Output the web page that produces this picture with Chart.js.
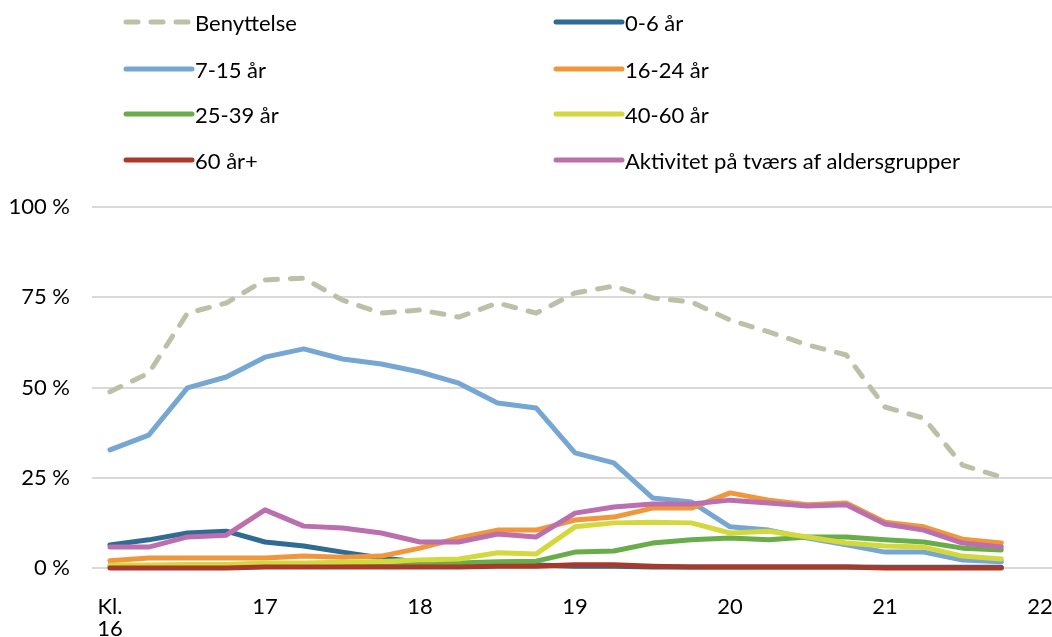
<!DOCTYPE html>
<html>
<head>
<meta charset="utf-8">
<script src="https://cdn.jsdelivr.net/npm/chart.js@4.4.1/dist/chart.umd.min.js"></script>
<style>
  body { margin: 0; background: #fff; font-family: Lato, sans-serif; }
  #wrap { position: relative; width: 1052px; height: 637px; }
  #legend { position: absolute; left: 0; top: 0; width: 1052px; height: 190px; }
  .item { position: absolute; display: flex; align-items: center; font-size: 22px; color: #000; white-space: nowrap; }
</style>
</head>
<body>
<div id="wrap">
  <canvas id="myChart" width="1052" height="637"></canvas>
  <div id="legend"></div>
</div>
<script>
// time of day, quarter hours
const hours = [16, 16.25, 16.5, 16.75, 17, 17.25, 17.5, 17.75, 18, 18.25, 18.5, 18.75,
               19, 19.25, 19.5, 19.75, 20, 20.25, 20.5, 20.75, 21, 21.25, 21.5, 21.75];
const hourTicks = [16, 17, 18, 19, 20, 21, 22];

const seriesNames = ['Benyttelse', '0-6 år', '7-15 år', '16-24 år', '25-39 år', '40-60 år', '60 år+', 'Aktivitet på tværs af aldersgrupper'];

const benyttelse = [48.8, 54.0, 70.6, 73.4, 79.8, 80.3, 74.2, 70.6, 71.5, 69.5, 73.4, 70.6, 76.2, 78.1, 74.8, 73.7, 68.7, 65.4, 61.8, 59.0, 44.6, 41.5, 28.5, 25.2];
const age0_6 = [6.4, 7.8, 9.7, 10.2, 7.2, 6.1, 4.4, 2.8, 1.7, 1.2, 1.0, 0.8, 0.5, 0.5, 0.3, 0.3, 0.3, 0.3, 0.3, 0.3, 0.2, 0.2, 0.2, 0.2];
const age7_15 = [32.7, 36.8, 49.9, 52.9, 58.4, 60.7, 57.9, 56.5, 54.3, 51.2, 45.7, 44.3, 31.9, 29.1, 19.4, 18.3, 11.4, 10.5, 8.3, 6.4, 4.4, 4.4, 2.2, 1.7];
const age16_24 = [2.0, 2.8, 2.8, 2.8, 2.8, 3.3, 3.0, 3.3, 5.5, 8.3, 10.5, 10.5, 13.3, 14.1, 16.6, 16.6, 20.8, 18.8, 17.5, 18.0, 12.7, 11.4, 8.0, 6.9];
const age25_39 = [0.5, 0.5, 0.5, 0.5, 0.5, 0.5, 0.5, 0.5, 0.8, 1.4, 1.7, 1.9, 4.4, 4.7, 6.9, 7.8, 8.3, 7.8, 8.6, 8.6, 7.8, 7.2, 5.5, 5.0];
const age40_60 = [0.8, 0.8, 1.0, 1.0, 1.4, 1.4, 1.6, 1.8, 2.2, 2.5, 4.2, 3.9, 11.4, 12.5, 12.7, 12.5, 9.7, 10.2, 8.6, 6.9, 6.1, 5.8, 3.3, 2.5];
const age60plus = [0, 0, 0, 0, 0.3, 0.3, 0.3, 0.3, 0.3, 0.3, 0.5, 0.5, 0.9, 0.9, 0.5, 0.3, 0.3, 0.3, 0.3, 0.3, 0, 0, 0, 0];
const aktivitet = [5.8, 5.8, 8.6, 9.1, 16.1, 11.6, 11.1, 9.7, 7.2, 7.2, 9.4, 8.6, 15.2, 16.9, 17.7, 17.7, 18.8, 18.0, 17.2, 17.5, 12.2, 10.5, 6.9, 5.8];

const allValues = [benyttelse, age0_6, age7_15, age16_24, age25_39, age40_60, age60plus, aktivitet];
const colors = ['#bdbfa7', '#2f6b93', '#76a6d2', '#f0963b', '#69ad4b', '#d3d93d', '#a9392a', '#bb6fae'];

function toPoints(values) {
    let pts = [];
    for (let i = 0; i < values.length; i++) {
        pts.push({ x: hours[i], y: values[i] });
    }
    return pts;
}

let datasets = [];
for (let i = 0; i < allValues.length; i++) {
    datasets.push({
        label: seriesNames[i],
        data: toPoints(allValues[i]),
        borderColor: colors[i],
        backgroundColor: colors[i],
        borderWidth: 5,
        borderDash: i === 0 ? [12, 13] : [],
        borderCapStyle: 'round',
        borderJoinStyle: 'round',
        pointRadius: 0,
        tension: 0,
        clip: false,
        order: allValues.length - i   // later series on top, like the original
    });
}

new Chart(document.getElementById('myChart'), {
    type: 'line',
    data: { datasets: datasets },
    options: {
        responsive: false,
        animation: false,
        layout: { padding: { top: 207, right: 0, bottom: 0, left: 0 } },
        plugins: {
            legend: { display: false },
            tooltip: { enabled: false }
        },
        scales: {
            x: {
                type: 'linear',
                min: 15.884,
                max: 22.077,
                grid: { display: false, drawTicks: false },
                border: { display: false },
                afterBuildTicks: function (scale) {
                    scale.ticks = hourTicks.map(v => ({ value: v }));
                },
                afterFit: function (scale) {
                    scale.height = 69;
                    scale.paddingLeft = 0;
                    scale.paddingRight = 0;
                },
                ticks: {
                    autoSkip: false,
                    maxRotation: 0,
                    padding: 28,
                    color: '#000',
                    font: { family: 'Lato', size: 22, lineHeight: 1.0 },
                    callback: function (v) { return v === 16 ? ['Kl.', '16'] : String(v); }
                }
            },
            y: {
                min: 0,
                max: 100,
                grid: { color: '#d9d9d9', lineWidth: 2, drawTicks: false },
                border: { display: false },
                afterFit: function (scale) {
                    scale.width = 92;
                    scale.paddingTop = 0;
                    scale.paddingBottom = 0;
                },
                ticks: {
                    stepSize: 25,
                    padding: 22,
                    color: '#000',
                    font: { family: 'Lato', size: 22 },
                    callback: function (v) { return v + ' %'; }
                }
            }
        }
    }
});

// legend in two columns, built from the same series
const legendLeft = [123, 553];
const legendRowY = [22, 69, 114, 160];
let legend = document.getElementById('legend');
for (let i = 0; i < seriesNames.length; i++) {
    let item = document.createElement('div');
    item.className = 'item';
    item.style.left = legendLeft[i % 2] + 'px';
    item.style.top = (legendRowY[Math.floor(i / 2)] - 14) + 'px';
    let dash = i === 0 ? ' stroke-dasharray="12 13"' : '';
    item.innerHTML = '<svg width="72" height="28"><line x1="3" y1="14" x2="69" y2="14" stroke="' + colors[i] +
        '" stroke-width="5" stroke-linecap="round"' + dash + '/></svg><span>' + seriesNames[i] + '</span>';
    legend.appendChild(item);
}
</script>
</body>
</html>
